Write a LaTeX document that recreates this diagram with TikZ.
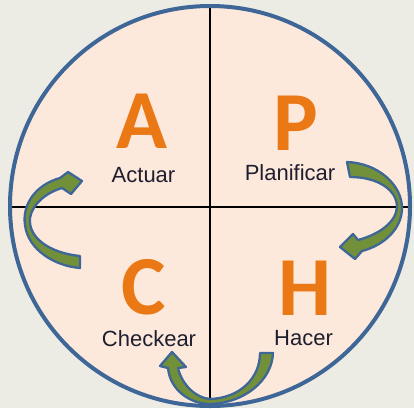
\documentclass[tikz,border=0pt]{standalone}
\usepackage{fontspec}
\setmainfont{Liberation Sans}
\newfontfamily\letterfont{Carlito}
\definecolor{bgc}{HTML}{EDECE4}
\definecolor{circfill}{HTML}{FDE9DC}
\definecolor{circblue}{HTML}{3E6797}
\definecolor{arrgreen}{HTML}{72903A}
\definecolor{letterorange}{HTML}{EA7814}
\definecolor{labeltext}{HTML}{1E1E2E}
\tikzset{
  bigletter/.style={font=\letterfont\bfseries\fontsize{84}{84}\selectfont, text=letterorange, inner sep=0pt, anchor=base},
  steplabel/.style={font=\fontsize{22}{22}\selectfont, text=labeltext, inner sep=0pt, anchor=base},
  cyclearrow/.style={fill=arrgreen, draw=circblue, line width=2.3pt, line join=round},
}
\begin{document}
\begin{tikzpicture}[x=1pt,y=-1pt]
\useasboundingbox (0,0) rectangle (414,408);
\fill[bgc] (0,0) rectangle (414,408);
\coordinate (c) at (210,206);
\fill[circfill] (c) circle (200);
\coordinate (top) at (210,6);
\coordinate (bot) at (210,406);
\coordinate (lft) at (10,207);
\coordinate (rgt) at (410,207);
\draw[black, line width=2pt] (top) -- (bot);
\draw[black, line width=2pt] (lft) -- (rgt);
\draw[circblue, line width=4pt] (c) circle (200);
% letters
\node[bigletter] (A) at (141.5,148) {A};
\node[bigletter] (P) at (296,150) {P};
\node[bigletter] (C) at (144,314) {C};
\node[bigletter] (H) at (304.5,315) {H};
% labels
\node[steplabel] (actuar) at (143.5,182) {Actuar};
\node[steplabel] (planificar) at (290,180) {Planificar};
\node[steplabel] (checkear) at (149,346) {Checkear};
\node[steplabel] (hacer) at (303.5,345) {Hacer};
% arrows
\draw[cyclearrow] (80,268) -- (80,256) .. controls (50,253) and (28,238) .. (30,218)
  .. controls (32,205) and (45,193) .. (62,188) -- (71,194) -- (82,181) -- (68,172) -- (60,178)
  .. controls (35,185) and (22,205) .. (25,225) .. controls (28,250) and (55,266) .. (80,268) -- cycle;
\draw[cyclearrow] (347,162) .. controls (378,163) and (402,185) .. (402,208)
  .. controls (402,228) and (385,245) .. (362,251) -- (355,259) -- (340,247) -- (353,234) -- (358,240)
  .. controls (380,234) and (396,222) .. (397,207) .. controls (397,190) and (378,177) .. (350,177) -- cycle;
\draw[cyclearrow] (273,353) .. controls (272,380) and (245,403) .. (210,404)
  .. controls (190,404) and (170,390) .. (168,368) -- (160,366) -- (172,352) -- (186,367) -- (178,368)
  .. controls (182,385) and (196,398) .. (210,399) .. controls (240,398) and (260,378) .. (260,353) -- cycle;
\end{tikzpicture}
\end{document}
